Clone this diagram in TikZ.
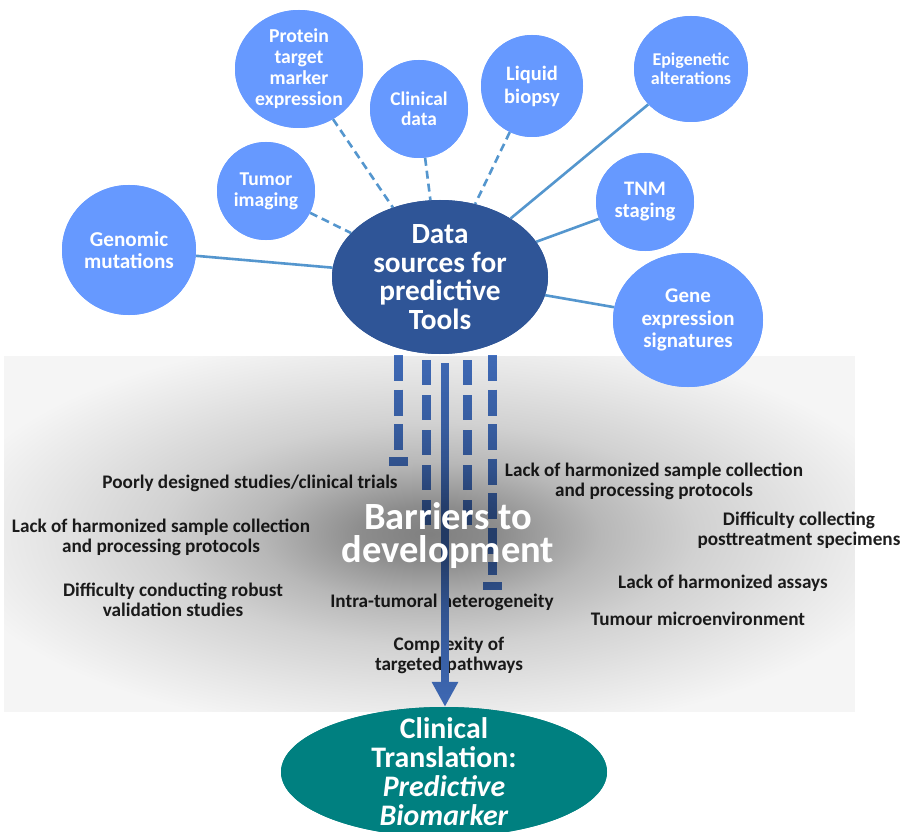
\documentclass[tikz,border=0pt]{standalone}
\usepackage{fontspec}
\setmainfont{Carlito}
\usetikzlibrary{shapes.geometric,arrows.meta,calc,fadings}
\definecolor{srcblue}{RGB}{102,153,255}
\definecolor{hubblue}{RGB}{47,85,151}
\definecolor{connblue}{RGB}{84,150,206}
\definecolor{barblue}{RGB}{68,114,196}
\definecolor{tealone}{RGB}{0,128,128}
\pgfdeclareradialshading{cloudshade}{\pgfpoint{0bp}{0bp}}{color(0bp)=(black!50); color(4bp)=(black!55); color(10bp)=(black!72); color(15.6bp)=(black!82); color(22.7bp)=(black!90); color(28.35bp)=(black!96); color(50bp)=(black!96)}
\pgfdeclarefading{cloudfade}{\pgfuseshading{cloudshade}}
\begin{document}
\begin{tikzpicture}[x=1pt,y=-1pt,
  src/.style={ellipse, fill=srcblue, draw=none, inner sep=0pt},
  srctext/.style={text=white, align=center, inner sep=0pt},
  conn/.style={draw=connblue, line width=2.6pt},
  dconn/.style={conn, dash pattern=on 8pt off 5pt},
  barA/.style={draw=barblue, line width=9pt, dash pattern=on 26pt off 8.5pt},
  barB/.style={draw=barblue, line width=9pt, dash pattern=on 25pt off 10pt},
  lbl/.style={font=\bfseries\fontsize{19.2}{20}\selectfont, align=center, text=black!88, inner sep=0pt},
]
\useasboundingbox (0,0) rectangle (903,832);
\clip (0,0) rectangle (903,832);
\fill[white] (0,0) rectangle (903,832);

% barrier labels
\node[lbl] (b1) at (250,483) {Poorly designed studies/clinical trials};
\node[lbl] (b2) at (161,537) {Lack of harmonized sample collection\\and processing protocols};
\node[lbl] (b3) at (173,600) {Difficulty conducting robust\\validation studies};
\node[lbl] (b4) at (442,602) {Intra-tumoral heterogeneity};
\node[lbl] (b5) at (449,655) {Complexity of\\targeted pathways};
\node[lbl] (b6) at (654,481) {Lack of harmonized sample collection\\and processing protocols};
\node[lbl] (b7) at (799,530) {Difficulty collecting\\posttreatment specimens};
\node[lbl] (b8) at (723,583) {Lack of harmonized assays};
\node[lbl] (b9) at (698,619) {Tumour microenvironment};

% shape nodes
\node[src, minimum width=134pt, minimum height=130pt] (gen) at (129,250) {};
\node[src, minimum width=98pt, minimum height=98pt] (tum) at (266,191) {};
\node[src, minimum width=128pt, minimum height=118pt] (pro) at (299,69) {};
\node[src, minimum width=98pt, minimum height=98pt] (cli) at (419,109) {};
\node[src, minimum width=102pt, minimum height=102pt] (liq) at (532,86) {};
\node[src, minimum width=114pt, minimum height=106pt] (epi) at (691,69) {};
\node[src, minimum width=98pt, minimum height=98pt] (tnm) at (645,202) {};
\node[ellipse, fill=hubblue, inner sep=0pt, minimum width=216pt, minimum height=154pt] (dst) at (440,277) {};
\node[ellipse, fill=tealone, inner sep=0pt, minimum width=326pt, minimum height=130pt] (clin) at (444,772) {};

% bars
\coordinate (t1) at ($(dst.south)+(-42,96)$);
\draw[barA] ($(dst.south)+(-42,1)$) -- (t1);
\fill[barblue] ($(t1)+(-9.5,7)$) rectangle ($(t1)+(9.5,16)$);
\coordinate (e2) at ($(dst.south)+(-13.5,171)$);
\draw[barB] ($(dst.south)+(-13.5,6)$) -- (e2);
\coordinate (e4) at ($(dst.south)+(27.5,171)$);
\draw[barB] ($(dst.south)+(27.5,6)$) -- (e4);
\coordinate (t5) at ($(dst.south)+(52.5,221)$);
\draw[barA] ($(dst.south)+(52.5,1)$) -- (t5);
\fill[barblue] ($(t5)+(-9.5,7)$) rectangle ($(t5)+(9.5,15)$);
\draw[barblue, line width=8pt, -{Triangle[width=25pt,length=25pt]}] ($(dst.south)+(5,9)$) -- ($(clin.north)+(1,0)$);

% cloud
\fill[black, path fading=cloudfade] (4,356) rectangle (856,712);

% connectors
\draw[conn] (gen) -- (dst);
\draw[dconn] (tum) -- (dst);
\draw[dconn] (pro) -- (dst);
\draw[dconn] (cli) -- (dst);
\draw[dconn] (liq) -- (dst);
\draw[conn] (epi) -- (dst);
\draw[conn] (tnm) -- (dst);

% redraw shapes on top of connectors and cloud
\node[src, minimum width=134pt, minimum height=130pt] (gen2) at (gen) {};
\node[src, minimum width=98pt, minimum height=98pt] (tum2) at (tum) {};
\node[src, minimum width=128pt, minimum height=118pt] (pro2) at (pro) {};
\node[src, minimum width=98pt, minimum height=98pt] (cli2) at (cli) {};
\node[src, minimum width=102pt, minimum height=102pt] (liq2) at (liq) {};
\node[src, minimum width=114pt, minimum height=106pt] (epi2) at (epi) {};
\node[src, minimum width=98pt, minimum height=98pt] (tnm2) at (tnm) {};
\node[src, minimum width=150pt, minimum height=134pt] (gex) at (688,320) {};
\draw[conn] (gex) -- (dst);
\node[src, minimum width=150pt, minimum height=134pt] (gex2) at (gex) {};
\node[ellipse, fill=hubblue, inner sep=0pt, minimum width=216pt, minimum height=154pt] (dst2) at (dst) {};
\node[ellipse, fill=tealone, inner sep=0pt, minimum width=326pt, minimum height=130pt] (clin2) at (clin) {};

% texts
\node[srctext, font=\bfseries\fontsize{21.2}{22}\selectfont] (gen-t) at (gen) {Genomic\\mutations};
\node[srctext, font=\bfseries\fontsize{19.6}{21}\selectfont] (tum-t) at (tum) {Tumor\\imaging};
\node[srctext, font=\bfseries\fontsize{19.7}{21}\selectfont] (pro-t) at (pro) {Protein\\target\\marker\\expression};
\node[srctext, font=\bfseries\fontsize{19.4}{20}\selectfont] (cli-t) at (cli) {Clinical\\data};
\node[srctext, font=\bfseries\fontsize{20.5}{23}\selectfont] (liq-t) at (liq) {Liquid\\biopsy};
\node[srctext, font=\bfseries\fontsize{18}{19}\selectfont] (epi-t) at (epi) {Epigenetic\\alterations};
\node[srctext, font=\bfseries\fontsize{20.6}{22}\selectfont] (tnm-t) at (tnm) {TNM\\staging};
\node[srctext, font=\bfseries\fontsize{20.9}{22.5}\selectfont] (gex-t) at (gex) {Gene\\expression\\signatures};
\node[srctext, font=\bfseries\fontsize{29.3}{28.5}\selectfont] (dst-t) at (dst) {Data\\sources for\\predictive\\Tools};
\node[srctext, font=\bfseries\fontsize{38.5}{33}\selectfont] (bar-t) at (448,536) {Barriers to\\development};
\node[srctext, font=\bfseries\fontsize{29.8}{29}\selectfont] (clin-t) at (clin) {Clinical\\Translation:\\\textit{Predictive}\\\textit{Biomarker}};
\end{tikzpicture}
\end{document}
